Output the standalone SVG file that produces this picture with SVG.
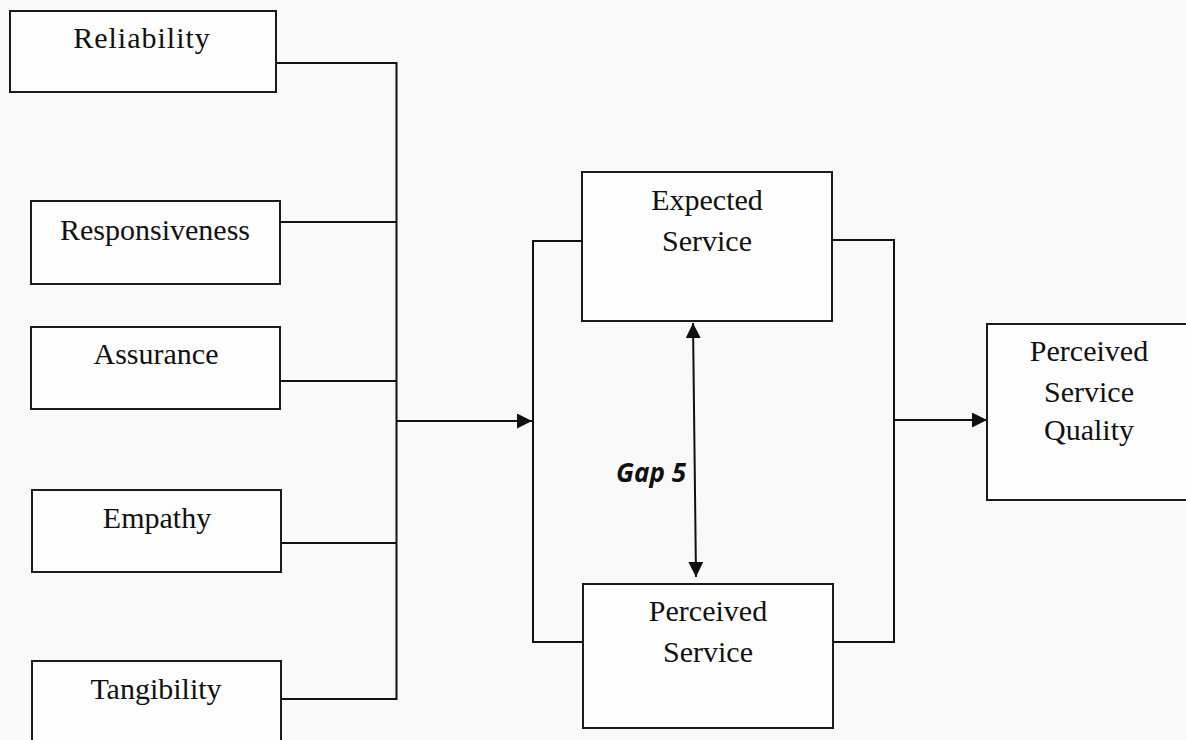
<svg xmlns="http://www.w3.org/2000/svg" width="1186" height="740" viewBox="0 0 1186 740">
<style>
.box{fill:#fdfdfd;stroke:#1a1a1a;stroke-width:2}
.ln{fill:none;stroke:#111;stroke-width:2}
.t{font-family:"Liberation Serif","Times New Roman",serif;font-size:30px;fill:#111;text-anchor:middle}
.gap{font-family:"Open Sans","Liberation Sans",sans-serif;font-size:26px;font-weight:bold;font-style:italic;fill:#111;text-anchor:end}
</style>
<defs>
<marker id="ah" viewBox="0 0 10 10" refX="10" refY="5" markerWidth="15" markerHeight="15" markerUnits="userSpaceOnUse" orient="auto-start-reverse">
<path d="M0,0 L10,5 L0,10 z" fill="#111"/>
</marker>
</defs>
<rect width="1186" height="740" fill="#f9f9f9"/>
<g id="connectors">
<path class="ln" d="M277,63 H396.5 V699 H282"/>
<path class="ln" d="M281,222 H396.5"/>
<path class="ln" d="M281,381 H396.5"/>
<path class="ln" d="M282,543 H396.5"/>
<path class="ln" d="M396.5,421 H532" marker-end="url(#ah)"/>
<path class="ln" d="M582,241 H533 V642 H583"/>
<path class="ln" d="M833,240 H894 V642 H834"/>
<path class="ln" d="M894,420 H987" marker-end="url(#ah)"/>
<path class="ln" d="M693,323 L696,577" marker-start="url(#ah)" marker-end="url(#ah)"/>
</g>
<g id="reliability"><rect class="box" x="10" y="11" width="266" height="81"/><text class="t" x="142" y="48" letter-spacing="1">Reliability</text></g>
<g id="responsiveness"><rect class="box" x="31" y="201" width="249" height="83"/><text class="t" x="155" y="240">Responsiveness</text></g>
<g id="assurance"><rect class="box" x="31" y="327" width="249" height="82"/><text class="t" x="156" y="364">Assurance</text></g>
<g id="empathy"><rect class="box" x="32" y="490" width="249" height="82"/><text class="t" x="157" y="528">Empathy</text></g>
<g id="tangibility"><rect class="box" x="32" y="661" width="249" height="90"/><text class="t" x="156" y="699">Tangibility</text></g>
<g id="expected-service"><rect class="box" x="582" y="172" width="250" height="149"/><text class="t" x="707" y="210">Expected</text><text class="t" x="707" y="251">Service</text></g>
<g id="perceived-service"><rect class="box" x="583" y="584" width="250" height="144"/><text class="t" x="708" y="621">Perceived</text><text class="t" x="708" y="662">Service</text></g>
<g id="perceived-service-quality"><rect class="box" x="987" y="324" width="210" height="176"/><text class="t" x="1089" y="361">Perceived</text><text class="t" x="1089" y="402">Service</text><text class="t" x="1089" y="440">Quality</text></g>
<g id="gap5-label"><text class="gap" x="686" y="482">Gap 5</text></g>
</svg>
